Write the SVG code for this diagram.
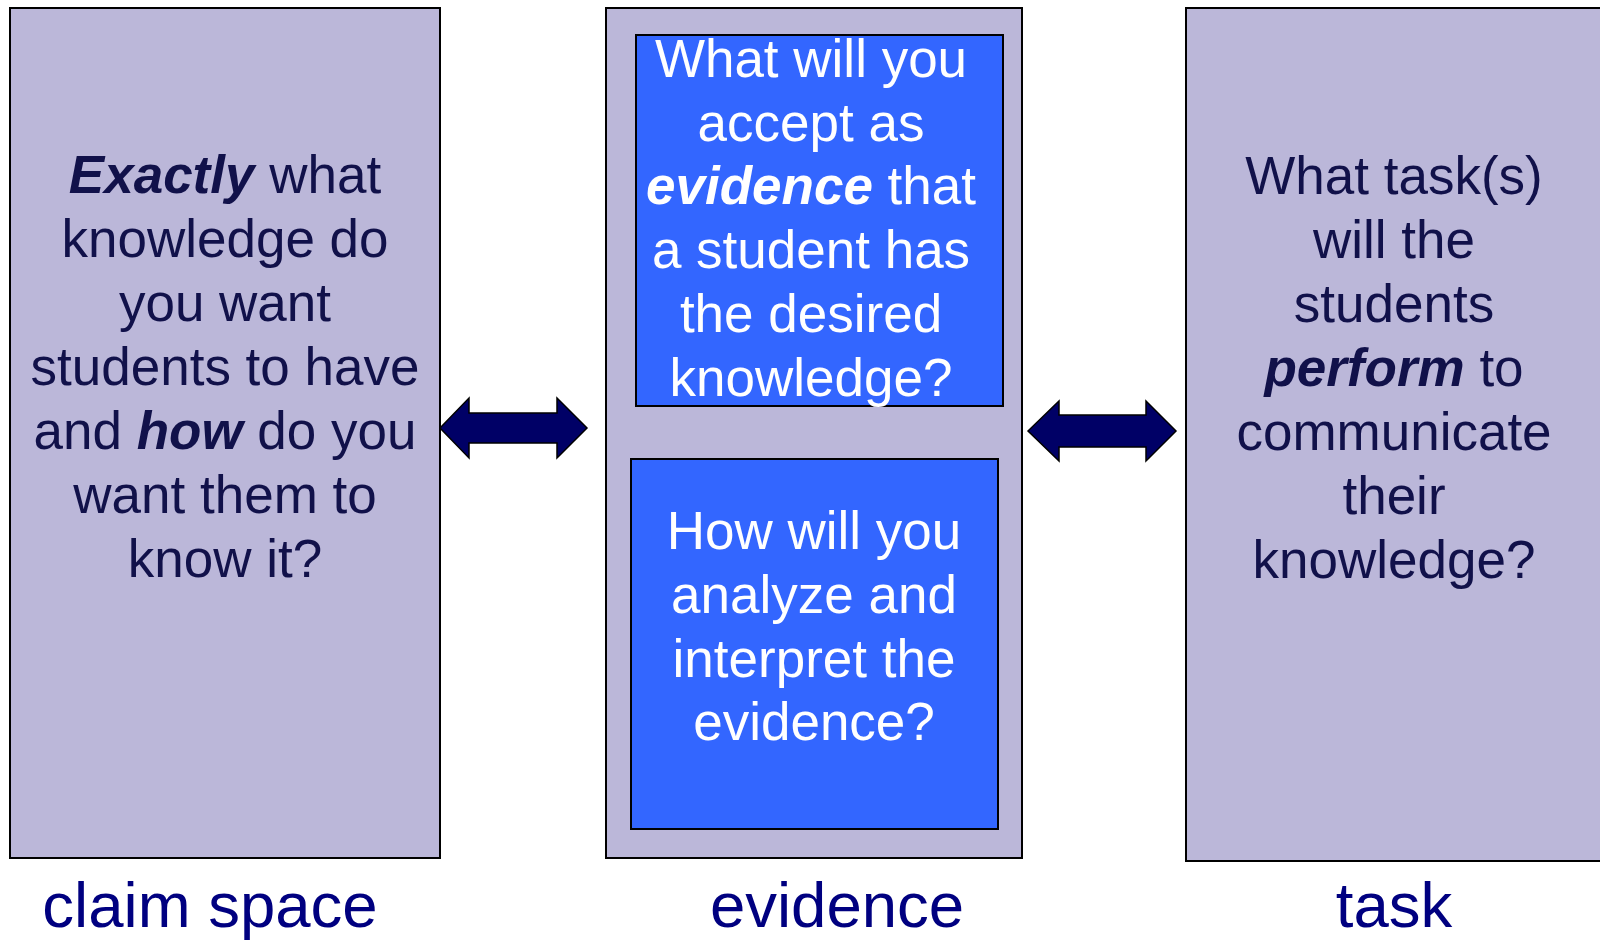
<svg xmlns="http://www.w3.org/2000/svg" width="1600" height="940" viewBox="0 0 1600 940">
<style>
.panel{fill:#BBB7D9;stroke:#000;stroke-width:2}
.inner{fill:#3366FF;stroke:#000;stroke-width:2}
.arrow{fill:#000066;stroke:#000;stroke-width:1.5;stroke-linejoin:miter}
text{font-family:"Liberation Sans",Arial,sans-serif;text-anchor:middle}
.q{font-size:53px;fill:#11114A}
.w{font-size:53px;fill:#FFFFFF}
.lbl{font-size:63.5px;fill:#000080}
.em{font-weight:bold;font-style:italic}
</style>
<rect width="1600" height="940" fill="#FFFFFF"/>
<g id="claim">
<rect class="panel" x="10" y="8" width="430" height="850"/>
<text class="q" x="225" y="193"><tspan class="em">Exactly</tspan> what</text>
<text class="q" x="225" y="257">knowledge do</text>
<text class="q" x="225" y="321">you want</text>
<text class="q" x="225" y="385">students to have</text>
<text class="q" x="225" y="449">and <tspan class="em">how</tspan> do you</text>
<text class="q" x="225" y="513">want them to</text>
<text class="q" x="225" y="577">know it?</text>
<text class="lbl" x="210" y="927">claim space</text>
</g>
<g id="evidence">
<rect class="panel" x="606" y="8" width="416" height="850"/>
<rect class="inner" x="636" y="35" width="367" height="371"/>
<text class="w" x="811" y="77">What will you</text>
<text class="w" x="811" y="141">accept as</text>
<text class="w" x="811" y="204"><tspan class="em">evidence</tspan> that</text>
<text class="w" x="811" y="268">a student has</text>
<text class="w" x="811" y="332">the desired</text>
<text class="w" x="811" y="396">knowledge?</text>
<rect class="inner" x="631" y="459" width="367" height="370"/>
<text class="w" x="814" y="549">How will you</text>
<text class="w" x="814" y="613">analyze and</text>
<text class="w" x="814" y="677">interpret the</text>
<text class="w" x="814" y="740">evidence?</text>
<text class="lbl" x="837" y="927">evidence</text>
</g>
<g id="task">
<rect class="panel" x="1186" y="8" width="420" height="853"/>
<text class="q" x="1394" y="194">What task(s)</text>
<text class="q" x="1394" y="258">will the</text>
<text class="q" x="1394" y="322">students</text>
<text class="q" x="1394" y="386"><tspan class="em">perform</tspan> to</text>
<text class="q" x="1394" y="450">communicate</text>
<text class="q" x="1394" y="514">their</text>
<text class="q" x="1394" y="578">knowledge?</text>
<text class="lbl" x="1394" y="927">task</text>
</g>
<g id="connectors">
<polygon class="arrow" points="440,428 469,398 469,413 557,413 557,398 587,428 557,458 557,443 469,443 469,458"/>
<polygon class="arrow" points="1028,431 1059,401 1059,415 1146,415 1146,401 1176,431 1146,461 1146,447 1059,447 1059,461"/>
</g>
</svg>
